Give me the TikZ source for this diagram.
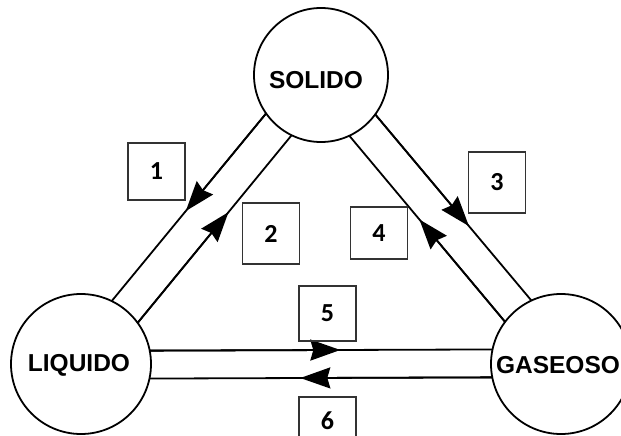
\documentclass[tikz,border=0pt]{standalone}
\usepackage{fontspec}
\setmainfont{Liberation Sans}
\newfontfamily\numfont{Carlito}
\usetikzlibrary{arrows.meta,calc}
\begin{document}
\begin{tikzpicture}[x=1pt,y=-1pt,
  phase/.style={circle, draw, line width=1.8pt, inner sep=0pt, outer sep=0pt},
  phasetext/.style={font=\fontsize{24.5}{24.5}\selectfont\bfseries, inner sep=0pt},
  numbox/.style={draw=black!80, line width=1.2pt, inner sep=0pt, minimum width=57pt,
    font=\numfont\fontsize{26}{26}\selectfont\bfseries},
  flowline/.style={line width=1.8pt},
  flowtip/.style={line width=1.8pt, -{Stealth[length=30pt,width=21pt,inset=3pt]}},
]
\useasboundingbox (0,0) rectangle (621,436);
\clip (0,0) rectangle (621,436);
% phases
\node[phase, minimum size=134pt] (S) at (321,75) {};
\node[phase, minimum size=140pt] (L) at (81,364) {};
\node[phase, minimum size=140pt] (G) at (561,364) {};
\node[phasetext] (St) at (316,80) {SOLIDO};
\node[phasetext] (Lt) at (79,365) {LIQUIDO};
\node[phasetext] (Gt) at (558,365) {GASEOSO};
% transitions
\coordinate (a1) at (S.215.59); \coordinate (a2) at (L.64.35);
\coordinate (b1) at (L.36.23);  \coordinate (b2) at (S.244.99);
\coordinate (c1) at (S.324.41); \coordinate (c2) at (G.115.65);
\coordinate (d1) at (G.143.77); \coordinate (d2) at (S.295.01);
\coordinate (e1) at (L.11.12);  \coordinate (e2) at (G.168.88);
\coordinate (f1) at (G.191.12); \coordinate (f2) at (L.348.88);
\coordinate (at) at ($(a1)!0.52!(a2)$);
\coordinate (bt) at ($(b1)!0.59!(b2)$);
\coordinate (ct) at ($(c1)!0.60!(c2)$);
\coordinate (dt) at ($(d1)!0.55!(d2)$);
\coordinate (et) at ($(e1)!0.556!(e2)$);
\coordinate (ft) at ($(f1)!0.56!(f2)$);
\draw[flowline] (a1) -- (a2);
\draw[flowline] (b1) -- (b2);
\draw[flowline] (c1) -- (c2);
\draw[flowline] (d1) -- (d2);
\draw[flowline] (e1) -- (e2);
\draw[flowline] (f1) -- (f2);
\draw[flowtip] (a1) -- (at);
\draw[flowtip] (b1) -- (bt);
\draw[flowtip] (c1) -- (ct);
\draw[flowtip] (d1) -- (dt);
\draw[flowtip] (e1) -- (et);
\draw[flowtip] (f1) -- (ft);
% numbered boxes
\node[numbox, minimum height=57pt] (n1) at (156.5,171.5) {1};
\node[numbox, minimum height=61pt] (n2) at (271,233.5) {2};
\node[numbox, minimum height=61pt] (n3) at (497,182.5) {3};
\node[numbox, minimum height=52pt] (n4) at (379,233) {4};
\node[numbox, minimum height=55pt] (n5) at (327.5,313.5) {5};
\node[numbox, minimum height=48pt] (n6) at (327.5,421) {6};
\end{tikzpicture}
\end{document}
